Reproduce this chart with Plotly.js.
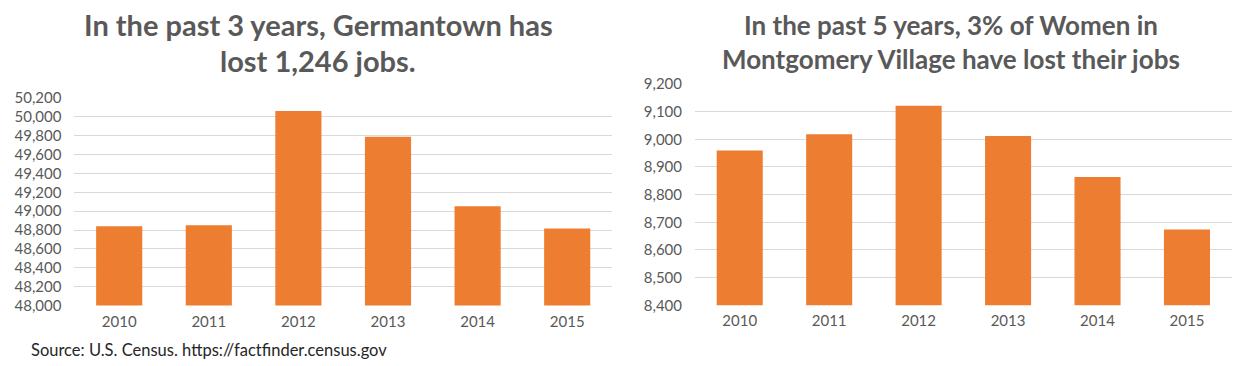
<!DOCTYPE html>
<html>
<head>
<meta charset="utf-8">
<script src="https://cdn.plot.ly/plotly-3.0.1.min.js"></script>
<style>
  html, body { margin: 0; padding: 0; background: #fff; }
  #chart { width: 1253px; height: 366px; }
</style>
</head>
<body>
<div id="chart"></div>
<script>
// ---- data ----
const years = ["2010", "2011", "2012", "2013", "2014", "2015"];
const germantownJobs = [48841, 48852, 50062, 49790, 49053, 48816];
const montgomeryWomenJobs = [8960, 9018, 9121, 9012, 8864, 8674];
const leftTitleLines = ["In the past 3 years, Germantown has", "lost 1,246 jobs."];
const rightTitleLines = ["In the past 5 years, 3% of Women in", "Montgomery Village have lost their jobs"];
const sourceText = "Source: U.S. Census. https://factfinder.census.gov";

const W = 1253, H = 366;
const px = x => x / W;
const py = y => 1 - y / H;

const ORANGE = "#ED7D31";
const GRAY_TXT = "#595959";
const GRID = "#d9d9d9";
const FONT = "Lato, 'Open Sans', sans-serif";

const traces = [
  { type: "bar", x: years, y: germantownJobs, xaxis: "x", yaxis: "y",
    marker: { color: ORANGE }, hoverinfo: "x+y" },
  { type: "bar", x: years, y: montgomeryWomenJobs, xaxis: "x2", yaxis: "y2",
    marker: { color: ORANGE }, hoverinfo: "x+y" }
];

const xCommon = {
  type: "category", showgrid: false, zeroline: false, showline: false,
  ticks: "", tickfont: { family: FONT, size: 15, color: GRAY_TXT },
  ticklabelstandoff: 5, fixedrange: true
};
const yCommon = {
  showgrid: true, gridcolor: GRID, gridwidth: 1, zeroline: false, showline: false,
  ticks: "", tickformat: ",d", tickfont: { family: FONT, size: 15, color: GRAY_TXT },
  ticklabelstandoff: 12, fixedrange: true
};

const layout = {
  width: W, height: H,
  margin: { l: 0, r: 0, t: 0, b: 0 },
  paper_bgcolor: "#fff", plot_bgcolor: "#fff",
  showlegend: false,
  bargap: 0.485,
  xaxis: Object.assign({}, xCommon, { domain: [px(74.4), px(612)], anchor: "y" }),
  yaxis: Object.assign({}, yCommon, { domain: [py(305.6), py(98)], anchor: "x",
    range: [48000, 50200], dtick: 200, tick0: 48000 }),
  xaxis2: Object.assign({}, xCommon, { domain: [px(695), px(1231.7)], anchor: "y2" }),
  yaxis2: Object.assign({}, yCommon, { domain: [py(305.3), py(84)], anchor: "x2",
    range: [8400, 9200], dtick: 100, tick0: 8400 }),
  annotations: [
    { text: "<b>" + leftTitleLines[0] + "</b>", x: px(318), y: py(25), xref: "paper", yref: "paper",
      xanchor: "center", yanchor: "middle", showarrow: false,
      font: { family: FONT, size: 29, color: GRAY_TXT } },
    { text: "<b>" + leftTitleLines[1] + "</b>", x: px(318), y: py(61), xref: "paper", yref: "paper",
      xanchor: "center", yanchor: "middle", showarrow: false,
      font: { family: FONT, size: 29, color: GRAY_TXT } },
    { text: "<b>" + rightTitleLines[0] + "</b>", x: px(951), y: py(25), xref: "paper", yref: "paper",
      xanchor: "center", yanchor: "middle", showarrow: false,
      font: { family: FONT, size: 26, color: GRAY_TXT } },
    { text: "<b>" + rightTitleLines[1] + "</b>", x: px(951), y: py(59), xref: "paper", yref: "paper",
      xanchor: "center", yanchor: "middle", showarrow: false,
      font: { family: FONT, size: 26, color: GRAY_TXT } },
    { text: sourceText, x: px(29), y: py(350), xref: "paper", yref: "paper",
      xanchor: "left", yanchor: "middle", showarrow: false,
      font: { family: FONT, size: 16.5, color: "#262626" } }
  ]
};

Plotly.newPlot("chart", traces, layout, { displayModeBar: false, staticPlot: true });
</script>
</body>
</html>
